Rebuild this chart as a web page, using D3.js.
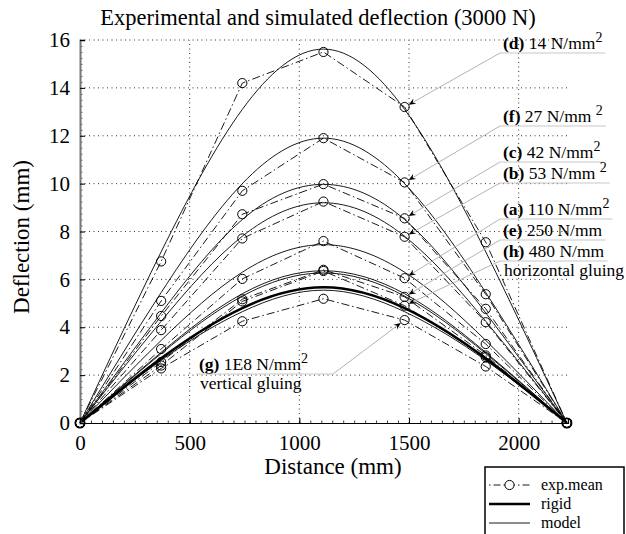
<!DOCTYPE html>
<html>
<head>
<meta charset="utf-8">
<script src="https://cdn.jsdelivr.net/npm/d3@7"></script>
<style>
  body { margin: 0; background: #fff; }
  text { font-family: "Liberation Serif", "Times New Roman", serif; fill: #000; }
</style>
</head>
<body>
<div id="chart"></div>
<script>
// measuring points along the beam (mm)
const distance = [0, 370, 740, 1110, 1480, 1850, 2220];

// experimental mean deflection (mm)
const expD = [0, 6.75, 14.2, 15.5, 13.2, 7.55, 0];
const expF = [0, 5.1, 9.7, 11.9, 10.05, 5.38, 0];
const expC = [0, 4.47, 8.72, 9.98, 8.55, 4.77, 0];
const expB = [0, 3.88, 7.71, 9.25, 7.78, 4.21, 0];
const expA = [0, 3.09, 6.02, 7.6, 6.05, 3.3, 0];
const expE = [0, 2.55, 5.17, 6.4, 5.27, 2.82, 0];
const expH = [0, 2.4, 5.08, 6.35, 4.9, 2.75, 0];
const expG = [0, 2.28, 4.25, 5.19, 4.3, 2.36, 0];

// simulated deflection (mm)
const modelD = [0, 7.15, 13.1, 15.62, 13.1, 7.15, 0];
const modelF = [0, 5.45, 10.0, 11.9, 10.0, 5.45, 0];
const modelC = [0, 4.6, 8.5, 9.97, 8.5, 4.6, 0];
const modelB = [0, 4.25, 7.8, 9.2, 7.8, 4.25, 0];
const modelA = [0, 3.45, 6.3, 7.45, 6.3, 3.45, 0];
const modelE = [0, 2.95, 5.4, 6.36, 5.4, 2.95, 0];
const modelH = [0, 2.9, 5.3, 6.27, 5.3, 2.9, 0];
const modelG = [0, 2.62, 4.65, 5.55, 4.65, 2.62, 0];
const rigid = [0, 2.7, 4.8, 5.67, 4.8, 2.7, 0];

const labelLetters = ['d', 'f', 'c', 'b', 'a', 'e', 'h', 'g'];
const labelValues = [' 14 N/mm', ' 27 N/mm ', ' 42 N/mm', ' 53 N/mm ', ' 110 N/mm', ' 250 N/mm', ' 480 N/mm', ' 1E8 N/mm'];
const labelSquared = [true, true, true, true, true, false, false, true];
const labelSecond = ['', '', '', '', '', '', 'horizontal gluing', 'vertical gluing'];

const xTicks = [0, 500, 1000, 1500, 2000];
const yTicks = [0, 2, 4, 6, 8, 10, 12, 14, 16];

const width = 626;
const height = 534;

const svg = d3.select('#chart').append('svg')
  .attr('width', width)
  .attr('height', height);

const x = d3.scaleLinear().domain([0, 2225]).range([80, 568]);
const y = d3.scaleLinear().domain([0, 16]).range([423, 40]);

// grid
const grid = svg.append('g').attr('class', 'grid')
  .attr('stroke', '#333').attr('stroke-width', 1).attr('stroke-dasharray', '1,3.5');
grid.selectAll('.gx').data(xTicks.slice(1)).enter().append('line')
  .attr('x1', d => x(d)).attr('x2', d => x(d))
  .attr('y1', y(0)).attr('y2', y(16));
grid.selectAll('.gy').data(yTicks.slice(1)).enter().append('line')
  .attr('x1', x(0)).attr('x2', x(2225))
  .attr('y1', d => y(d)).attr('y2', d => y(d));

const series = [
  { exp: expD, model: modelD },
  { exp: expF, model: modelF },
  { exp: expC, model: modelC },
  { exp: expB, model: modelB },
  { exp: expA, model: modelA },
  { exp: expE, model: modelE },
  { exp: expH, model: modelH },
  { exp: expG, model: modelG }
];

const smooth = d3.line()
  .x((d, i) => x(distance[i]))
  .y(d => y(d))
  .curve(d3.curveNatural);

const straight = d3.line()
  .x((d, i) => x(distance[i]))
  .y(d => y(d));

const plot = svg.append('g').attr('class', 'plot');

plot.selectAll('.model').data(series).enter().append('path')
  .attr('d', d => smooth(d.model))
  .attr('fill', 'none').attr('stroke', '#000').attr('stroke-width', 0.9);

plot.append('path')
  .attr('d', smooth(rigid))
  .attr('fill', 'none').attr('stroke', '#000').attr('stroke-width', 2.6);

plot.selectAll('.exp').data(series).enter().append('path')
  .attr('d', d => straight(d.exp))
  .attr('fill', 'none').attr('stroke', '#000').attr('stroke-width', 0.9)
  .attr('stroke-dasharray', '8,3,1.5,3');

series.forEach(s => {
  plot.selectAll(null).data(s.exp).enter().append('circle')
    .attr('cx', (d, i) => x(distance[i]))
    .attr('cy', d => y(d))
    .attr('r', 4.6)
    .attr('fill', 'none').attr('stroke', '#000').attr('stroke-width', 1);
});

// annotations
const labelX = [503, 503, 503, 503, 503, 503, 503, 199];
const labelY = [49, 122, 158, 179, 215, 236, 257, 370];
const notes = svg.append('g').attr('class', 'notes');

function arrowHead(tx, ty, fx, fy) {
  const ang = Math.atan2(ty - fy, tx - fx);
  const len = 7, half = 3;
  const bx = tx - len * Math.cos(ang), by = ty - len * Math.sin(ang);
  const p1 = [bx + half * Math.sin(ang), by - half * Math.cos(ang)];
  const p2 = [bx - half * Math.sin(ang), by + half * Math.cos(ang)];
  const notch = [tx - len * 0.65 * Math.cos(ang), ty - len * 0.65 * Math.sin(ang)];
  return `M${tx},${ty}L${p1}L${notch}L${p2}Z`;
}

labelLetters.forEach((letter, i) => {
  const t = notes.append('text')
    .attr('x', labelX[i]).attr('y', labelY[i])
    .attr('font-size', 17.5);
  t.append('tspan').attr('font-weight', 'bold').text(`(${letter})`);
  t.append('tspan').text(labelValues[i]);
  if (labelSquared[i]) {
    t.append('tspan').attr('dy', -7).attr('font-size', 14).text('2');
  }
  const bw = t.node().getBBox().width;
  if (labelSecond[i]) {
    notes.append('text')
      .attr('x', labelX[i] + 1).attr('y', labelY[i] + 19)
      .attr('font-size', 17.5)
      .text(labelSecond[i]);
  }

  const uy = labelY[i] + 4;
  const ux1 = labelX[i] - 3;
  const ux2 = letter === 'g' ? 333 : labelX[i] + bw + 3;
  notes.append('line')
    .attr('x1', ux1).attr('x2', ux2).attr('y1', uy).attr('y2', uy)
    .attr('stroke', '#c8c8c8').attr('stroke-width', 1.2);

  const fx = letter === 'g' ? ux2 : ux1;
  const cx = x(distance[4]);
  const cy = y(series[i].exp[4]);
  const ang = Math.atan2(cy - uy, cx - fx);
  const tx = cx - 4.8 * Math.cos(ang);
  const ty = cy - 4.8 * Math.sin(ang);
  notes.append('line')
    .attr('x1', fx).attr('y1', uy).attr('x2', tx).attr('y2', ty)
    .attr('stroke', '#b4b4b4').attr('stroke-width', 1);
  notes.append('path')
    .attr('d', arrowHead(tx, ty, fx, uy))
    .attr('fill', '#000');
});

// axes
const yAxis = d3.axisLeft(y).tickValues(yTicks).tickSize(-5).tickPadding(10).tickFormat(d3.format('d'));
const yMinor = d3.axisLeft(y).tickValues(d3.range(0, 16.01, 0.25)).tickSize(-2.5).tickFormat('');
const xAxis = d3.axisBottom(x).tickValues(xTicks).tickSize(-5).tickPadding(12).tickFormat(d3.format('d'));
const xMinor = d3.axisBottom(x).tickValues(d3.range(0, 2225, 50)).tickSize(-2.5).tickFormat('');

svg.append('g').attr('transform', `translate(${x(0)},0)`).call(yMinor)
  .call(g => g.select('.domain').remove())
  .call(g => g.selectAll('line').attr('stroke', '#666'));
svg.append('g').attr('transform', `translate(0,${y(0)})`).call(xMinor)
  .call(g => g.select('.domain').remove())
  .call(g => g.selectAll('line').attr('stroke', '#444'));

const gY = svg.append('g').attr('transform', `translate(${x(0)},0)`).call(yAxis);
gY.select('.domain').attr('stroke', '#777').attr('stroke-width', 2);
gY.selectAll('text').attr('font-size', 21).style('font-family', '"Liberation Serif", serif');

const gX = svg.append('g').attr('transform', `translate(0,${y(0)})`).call(xAxis);
gX.select('.domain').attr('stroke', '#000').attr('stroke-width', 1.2);
gX.selectAll('text').attr('font-size', 21).style('font-family', '"Liberation Serif", serif');

// end points sit on top of the axes
svg.selectAll('.endpt').data([0, 6]).enter().append('circle')
  .attr('cx', i => x(distance[i])).attr('cy', y(0)).attr('r', 4.6)
  .attr('fill', 'none').attr('stroke', '#000').attr('stroke-width', 1.8);

// titles
svg.append('text')
  .attr('x', 318).attr('y', 25)
  .attr('text-anchor', 'middle').attr('font-size', 22.5)
  .text('Experimental and simulated deflection (3000 N)');

svg.append('text')
  .attr('x', 333).attr('y', 474)
  .attr('text-anchor', 'middle').attr('font-size', 23)
  .text('Distance (mm)');

svg.append('text')
  .attr('transform', `translate(29,237) rotate(-90)`)
  .attr('text-anchor', 'middle').attr('font-size', 23)
  .text('Deflection (mm)');

// legend
const legend = svg.append('g').attr('class', 'legend');
legend.append('rect')
  .attr('x', 485).attr('y', 467).attr('width', 139).attr('height', 80)
  .attr('fill', '#fff').attr('stroke', '#000').attr('stroke-width', 1.5);

const legendNames = ['exp.mean', 'rigid', 'model'];
const legendRows = [485, 504, 523];
legend.append('line')
  .attr('x1', 489).attr('x2', 530).attr('y1', legendRows[0]).attr('y2', legendRows[0])
  .attr('stroke', '#000').attr('stroke-width', 0.9).attr('stroke-dasharray', '1.5,3,7,3');
legend.append('circle')
  .attr('cx', 509.5).attr('cy', legendRows[0]).attr('r', 4.6)
  .attr('fill', '#fff').attr('stroke', '#000');
legend.append('line')
  .attr('x1', 489).attr('x2', 530).attr('y1', legendRows[1]).attr('y2', legendRows[1])
  .attr('stroke', '#000').attr('stroke-width', 2.6);
legend.append('line')
  .attr('x1', 489).attr('x2', 530).attr('y1', legendRows[2]).attr('y2', legendRows[2])
  .attr('stroke', '#000').attr('stroke-width', 0.9);
legend.selectAll('.lt').data(legendNames).enter().append('text')
  .attr('x', 541).attr('y', (d, i) => legendRows[i]).attr('dy', '0.3em')
  .attr('font-size', 16)
  .text(d => d);
</script>
</body>
</html>
